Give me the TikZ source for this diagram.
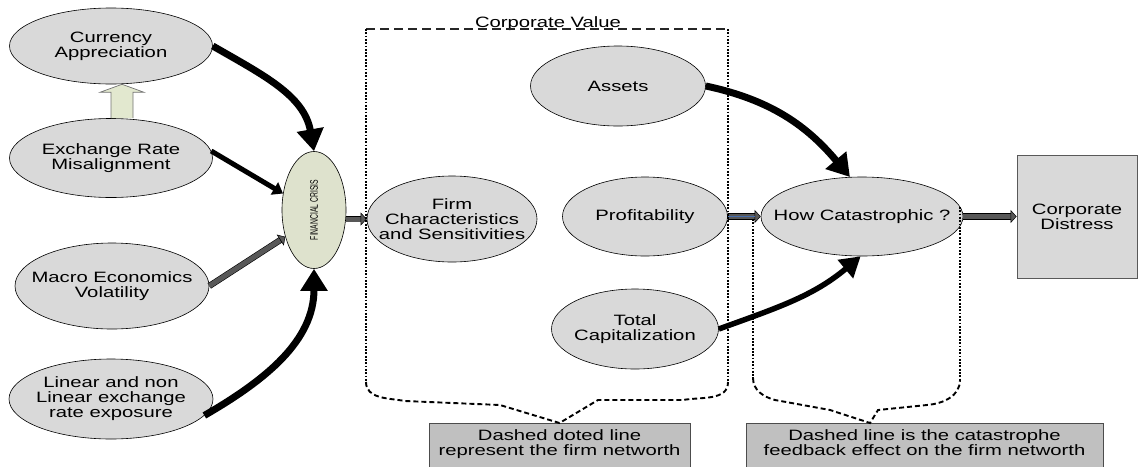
\documentclass[tikz,border=0pt]{standalone}
\usepackage{graphicx}
\usepackage{fontspec}
\setmainfont{Liberation Sans}[FakeStretch=1.35]
\newfontfamily\fcfont{Liberation Sans}[FakeStretch=0.62]
\usetikzlibrary{shapes.geometric,arrows.meta,calc}
\definecolor{ovalfill}{RGB}{217,217,217}
\definecolor{crisisfill}{RGB}{222,226,205}
\definecolor{upfill}{RGB}{226,232,207}
\definecolor{arrgray}{RGB}{88,88,88}
\definecolor{notefill}{RGB}{192,192,192}
\definecolor{stripeblue}{RGB}{70,110,175}

\begin{document}
\begin{tikzpicture}[x=1pt,y=1pt,
  every node/.style={font=\fontsize{15}{15}\selectfont, text=black},
  oval/.style={ellipse, draw=black, line width=0.6pt, fill=ovalfill, inner sep=-60pt, align=center},
  crisis/.style={ellipse, draw=black, line width=0.6pt, fill=crisisfill, inner sep=-60pt},
  distressbox/.style={rectangle, draw=black!65, line width=0.8pt, fill=ovalfill, align=center},
  note/.style={rectangle, draw=black!70, line width=0.8pt, fill=notefill, align=center, inner ysep=6pt, text depth=14pt},
  heavy/.style={line width=7pt, -{Triangle[length=22pt,width=26pt]}},
  heavyb/.style={line width=5.5pt, -{Triangle[length=20pt,width=23pt]}},
  medium/.style={line width=5pt, -{Triangle[length=10pt,width=14pt]}},
  blockarrow/.style={line width=5pt, draw=arrgray,
    -{Triangle[length=6pt,width=13pt,color=black,fill=arrgray,line width=0.5pt]},
    preaction={draw=black, line width=6.2pt, arrows=-, shorten >=5pt}},
  stripe/.style={postaction={draw=stripeblue, line width=1pt, arrows=-, shorten >=6pt}},
  hollowup/.style={draw=black!55, line width=0.7pt, fill=upfill},
  cvtop/.style={draw=black!85, line width=1.1pt, dash pattern=on 9pt off 5pt},
  dotv/.style={draw=black, line width=2.6pt, dash pattern=on 1.8pt off 1.5pt},
  callout/.style={draw=black, line width=1.9pt, dash pattern=on 5pt off 3pt}
]
\useasboundingbox (0,0) rectangle (1139,-466);

% causes on the left
\node[oval, minimum width=203pt, minimum height=76pt] (cur) at (111,-46) {Currency\\Appreciation};
\node[oval, minimum width=203pt, minimum height=79pt] (exr) at (111,-158) {Exchange Rate\\Misalignment};
\node[oval, minimum width=194pt, minimum height=86pt] (mac) at (112,-286) {Macro Economics\\Volatility};
\node[oval, minimum width=204pt, minimum height=80pt] (lin) at (111,-399) {Linear and non\\Linear exchange\\rate exposure};

% the crisis
\node[crisis, minimum width=64pt, minimum height=117pt] (fc) at (314,-210)
  {\rotatebox{90}{\fontsize{11}{11}\fcfont FINANCIAL CRISIS}};

% corporate value
\node[oval, minimum width=170pt, minimum height=86pt] (fir) at (452,-219) {Firm\\Characteristics\\and Sensitivities};
\node[oval, minimum width=175pt, minimum height=80pt] (ast) at (618,-86) {Assets};
\node[oval, minimum width=165pt, minimum height=79pt] (prof) at (645,-216.5) {Profitability};
\node[oval, minimum width=167pt, minimum height=80pt] (tc) at (635,-329) {Total\\Capitalization};

% outcome
\node[oval, minimum width=202pt, minimum height=79pt] (hc) at (862,-216.5) {How Catastrophic ?};
\node[distressbox, minimum width=120pt, minimum height=123pt] (cd) at (1077,-216.5) {Corporate\\Distress};

% notes
\node[note, anchor=north, minimum width=261pt] (n1) at (559.5,-423) {Dashed doted line\\represent the firm networth};
\node[note, anchor=north, minimum width=357pt] (n2) at (924.5,-423) {Dashed line is the catastrophe\\feedback effect on the firm networth};
\node[anchor=base] (cv) at (548,-27) {Corporate Value};

% hollow arrow between the two top causes
\coordinate (ut) at ([xshift=11pt]cur.south);
\coordinate (ub) at ([xshift=11pt]exr.north);
\draw[hollowup] ($(ub)+(-11,0)$) -- ($(ut)+(-11,-8)$) -- ($(ut)+(-22,-8)$) -- (ut)
  -- ($(ut)+(22,-8)$) -- ($(ut)+(11,-8)$) -- ($(ub)+(11,0)$);

% arrows into the crisis
\draw[heavy] (cur.east) to[out=-30,in=100] (fc.north);
\draw[medium] (exr.4) -- (fc.152);
\draw[blockarrow] (mac.east) -- (fc.223);
\draw[heavy] (lin.-10) to[out=30,in=-90] (fc.south);
\draw[blockarrow] (fc.east |- fir.west) -- (fir.west);

% arrows into the catastrophe
\draw[heavy] (ast.east) to[out=-12,in=130] (hc.107);
\draw[heavyb] (tc.east) to[out=20,in=-140] (hc.-92);
\draw[blockarrow, stripe] (prof.east) -- (hc.west);
\draw[blockarrow] (hc.east) -- (cd.west);

% firm networth frame
\draw[cvtop] (366,-29) -- (728,-29);
\draw[dotv] (366,-29) -- (366,-382);
\draw[dotv] (728,-29) -- (728,-382);
\draw[callout] (366,-382) to[out=-90,in=170] (405,-401) -- (500,-405) -- (n1.north)
  -- (598,-400) -- (683,-400) to[out=10,in=-90] (728,-382);

% catastrophe feedback frame
\coordinate (p2) at (870,-423);
\draw[dotv] (753,-219) -- (753,-378);
\draw[dotv] (960,-207) -- (960,-380);
\draw[callout] (753,-378) to[out=-90,in=165] (775,-400) -- (830,-410) -- (p2)
  -- (878,-410) -- (927,-405) to[out=5,in=-90] (960,-380);
\end{tikzpicture}
\end{document}
